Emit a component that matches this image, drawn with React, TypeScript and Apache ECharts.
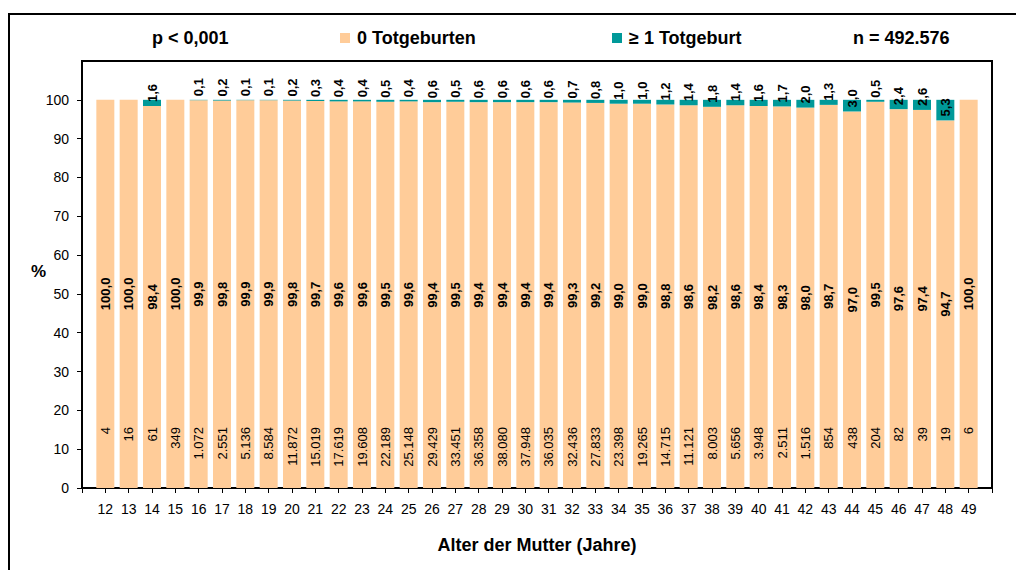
import React, { useEffect, useRef } from "react";
import * as echarts from "echarts";

const ages = [12, 13, 14, 15, 16, 17, 18, 19, 20, 21, 22, 23, 24, 25, 26, 27, 28, 29, 30, 31, 32, 33, 34, 35, 36, 37, 38, 39, 40, 41, 42, 43, 44, 45, 46, 47, 48, 49];
const counts = [4, 16, 61, 349, 1072, 2551, 5136, 8584, 11872, 15019, 17619, 19608, 22189, 25148, 29429, 33451, 36358, 38080, 37948, 36035, 32436, 27833, 23398, 19265, 14715, 11121, 8003, 5656, 3948, 2511, 1516, 854, 438, 204, 82, 39, 19, 6];
const pctNone = [100.0, 100.0, 98.4, 100.0, 99.9, 99.8, 99.9, 99.9, 99.8, 99.7, 99.6, 99.6, 99.5, 99.6, 99.4, 99.5, 99.4, 99.4, 99.4, 99.4, 99.3, 99.2, 99.0, 99.0, 98.8, 98.6, 98.2, 98.6, 98.4, 98.3, 98.0, 98.7, 97.0, 99.5, 97.6, 97.4, 94.7, 100.0];
const pctOne: (number | null)[] = [null, null, 1.6, null, 0.1, 0.2, 0.1, 0.1, 0.2, 0.3, 0.4, 0.4, 0.5, 0.4, 0.6, 0.5, 0.6, 0.6, 0.6, 0.6, 0.7, 0.8, 1.0, 1.0, 1.2, 1.4, 1.8, 1.4, 1.6, 1.7, 2.0, 1.3, 3.0, 0.5, 2.4, 2.6, 5.3, null];
const yTicks = [0, 10, 20, 30, 40, 50, 60, 70, 80, 90, 100];

const seriesNames = ["0 Totgeburten", "\u2265 1 Totgeburt"];
const pText = "p < 0,001";
const nText = "n = 492.576";
const xTitle = "Alter der Mutter (Jahre)";
const yTitle = "%";

const FONT = 'Arial, "Liberation Sans", sans-serif';
const PEACH = "#FFCC99";
const TEAL = "#009999";

const fmtPct = (v: number) => v.toFixed(1).replace(".", ",");
const fmtCount = (v: number) => String(v).replace(/\B(?=(\d{3})+(?!\d))/g, ".");

export default function App() {
  const ref = useRef<HTMLDivElement>(null);

  useEffect(() => {
    if (!ref.current) return;
    const chart = echarts.init(ref.current, null, { renderer: "svg" });

    const cats = ["", ...ages.map(String), ""];
    const pad = (arr: (number | null)[]) => [null, ...arr, null];

    const legendBase = {
      top: 24,
      itemWidth: 10,
      itemHeight: 10,
      icon: "rect",
      selectedMode: false,
      textStyle: { fontFamily: FONT, fontSize: 18, fontWeight: "bold", color: "#000", padding: [0, 0, 0, 2] },
    };

    const option: any = {
      animation: false,
      backgroundColor: "#ffffff",
      textStyle: { fontFamily: FONT },
      grid: {
        left: 82,
        right: 24,
        top: 61,
        bottom: 82,
        show: true,
        borderColor: "#000",
        borderWidth: 2,
        backgroundColor: "#fff",
        containLabel: false,
      },
      legend: [
        { ...legendBase, data: [seriesNames[0]], left: 335 },
        { ...legendBase, data: [seriesNames[1]], left: 607 },
      ],
      xAxis: {
        type: "category",
        data: cats,
        boundaryGap: false,
        axisLine: { show: true, lineStyle: { color: "#000", width: 2 } },
        axisTick: { show: true, interval: 0, length: 5, lineStyle: { color: "#000", width: 1 } },
        axisLabel: {
          interval: 0,
          margin: 14,
          fontFamily: FONT,
          fontSize: 14,
          color: "#000",
          formatter: (v: string) => v,
        },
        splitLine: { show: false },
      },
      yAxis: {
        type: "value",
        min: 0,
        max: 110,
        interval: 10,
        axisLine: { show: true, lineStyle: { color: "#000", width: 2 } },
        axisTick: { show: true, length: 5, lineStyle: { color: "#000", width: 1 }, customValues: yTicks },
        axisLabel: {
          margin: 13,
          fontFamily: FONT,
          fontSize: 14,
          color: "#000",
          customValues: yTicks,
          formatter: (v: number) => (v > 100 ? "" : String(v)),
        },
        splitLine: { show: false },
      },
      series: [
        {
          name: seriesNames[0],
          type: "bar",
          stack: "total",
          barWidth: 18,
          data: pad(pctNone),
          itemStyle: { color: PEACH },
          label: {
            show: true,
            position: "inside",
            rotate: 90,
            fontFamily: FONT,
            fontSize: 13,
            fontWeight: "bold",
            color: "#000",
            formatter: (p: any) => fmtPct(p.value),
          },
        },
        {
          name: seriesNames[1],
          type: "bar",
          stack: "total",
          barWidth: 18,
          data: pad(pctOne),
          itemStyle: { color: TEAL },
          label: {
            show: true,
            position: "insideBottom",
            distance: 4,
            rotate: 90,
            align: "left",
            verticalAlign: "middle",
            fontFamily: FONT,
            fontSize: 13,
            fontWeight: "bold",
            color: "#000",
            formatter: (p: any) => (p.value == null ? "" : fmtPct(p.value)),
          },
        },
        {
          name: "counts",
          type: "custom",
          data: counts.map((c, i) => [String(ages[i]), c]),
          z: 10,
          renderItem: (params: any, api: any) => {
            const pt = api.coord([api.value(0), 0]);
            return {
              type: "text",
              x: pt[0],
              y: pt[1] - 61,
              rotation: Math.PI / 2,
              style: {
                text: fmtCount(api.value(1)),
                align: "right",
                verticalAlign: "middle",
                font: `13px ${FONT}`,
                fill: "#000",
              },
            };
          },
        },
      ],
      graphic: [
        {
          type: "rect",
          shape: { x: 9, y: 14, width: 1020, height: 580 },
          style: { fill: "none", stroke: "#000", lineWidth: 2 },
          silent: true,
          z: -1,
        },
        {
          type: "text",
          left: 152,
          top: 29,
          style: { text: pText, font: `bold 18px ${FONT}`, fill: "#000" },
        },
        {
          type: "text",
          left: 853,
          top: 29,
          style: { text: nText, font: `bold 18px ${FONT}`, fill: "#000" },
        },
        {
          type: "text",
          left: 31,
          top: 263,
          style: { text: yTitle, font: `bold 17px ${FONT}`, fill: "#000" },
        },
        {
          type: "text",
          x: 537,
          y: 545,
          style: { text: xTitle, font: `bold 18px ${FONT}`, fill: "#000", align: "center", verticalAlign: "middle" },
        },
      ],
    };

    chart.setOption(option);
    return () => chart.dispose();
  }, []);

  return (
    <div
      ref={ref}
      style={{ position: "fixed", left: 0, top: 0, width: 1016, height: 570, background: "#fff" }}
    />
  );
}
